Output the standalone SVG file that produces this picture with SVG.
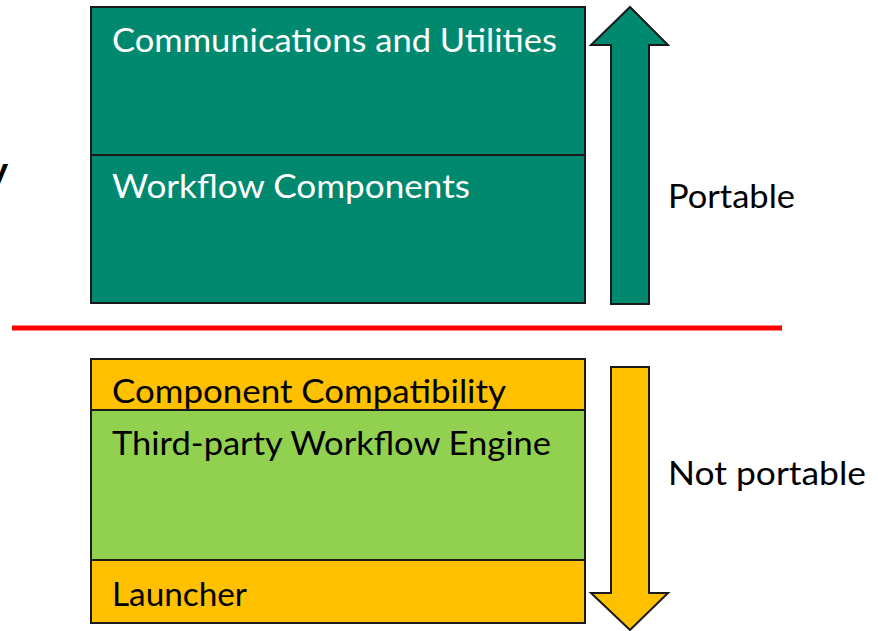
<svg xmlns="http://www.w3.org/2000/svg" width="878" height="631" viewBox="0 0 878 631">
<style>
.box{stroke:#1a1a1a;stroke-width:2}
.teal{fill:#00896F}
.yel{fill:#FFC000}
.grn{fill:#92D050}
.t{font-family:Lato,"Liberation Sans",sans-serif;font-size:32px}
.w{fill:#ffffff}
.k{fill:#000000}
</style>
<rect width="878" height="631" fill="#ffffff"/>
<text x="-13" y="185" class="t k" style="font-size:40px;font-weight:bold">y</text>
<g id="portable-stack">
<rect class="box teal" x="91" y="7" width="494" height="148"/>
<rect class="box teal" x="91" y="155" width="494" height="148"/>
<text class="t w" x="112" y="52" textLength="445" lengthAdjust="spacingAndGlyphs">Communications and Utilities</text>
<text class="t w" x="112" y="198" textLength="358" lengthAdjust="spacingAndGlyphs">Workflow Components</text>
</g>
<g id="nonportable-stack">
<rect class="box yel" x="91" y="359" width="494" height="51"/>
<rect class="box grn" x="91" y="410" width="494" height="150"/>
<rect class="box yel" x="91" y="560" width="494" height="63"/>
<text class="t k" x="112" y="403" textLength="394" lengthAdjust="spacingAndGlyphs">Component Compatibility</text>
<text class="t k" x="112" y="455" textLength="439" lengthAdjust="spacingAndGlyphs">Third-party Workflow Engine</text>
<text class="t k" x="112" y="606" textLength="135" lengthAdjust="spacingAndGlyphs">Launcher</text>
</g>
<g id="connectors">
<polygon class="box teal" points="630,7 668,45 649,45 649,304 611,304 611,45 591,45"/>
<line x1="12" y1="328" x2="782" y2="328" stroke="#FF0000" stroke-width="5"/>
<polygon class="box yel" points="611,367 649,367 649,593 668,593 630,630 591,593 611,593"/>
</g>
<g id="labels">
<text class="t k" x="668" y="208" textLength="127" lengthAdjust="spacingAndGlyphs">Portable</text>
<text class="t k" x="668" y="485" textLength="198" lengthAdjust="spacingAndGlyphs">Not portable</text>
</g>
</svg>
